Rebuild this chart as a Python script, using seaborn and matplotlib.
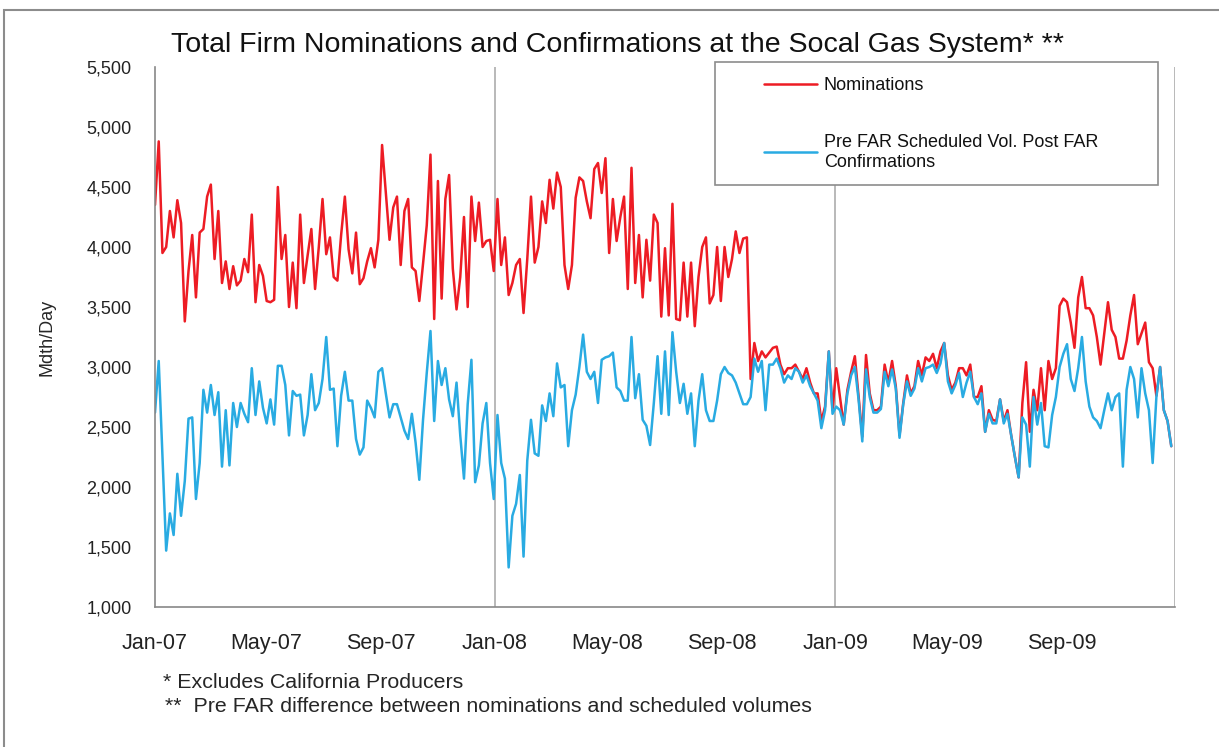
#total firm nominations vs confirmations, socal gas system, 2007-2009

import numpy as np
import pandas as pd
import matplotlib
matplotlib.use("Agg")
import matplotlib.pyplot as plt
import matplotlib.dates as mdates
from matplotlib.patches import Rectangle
from matplotlib.ticker import FuncFormatter
import seaborn as sns


#readings taken every 4 days from 1 Jan 2007 (Mdth/Day)
start = "2007-01-01"
step = "4D"

nominations = [
	4350, 4880, 3950, 4000, 4300, 4080, 4390, 4200, 3380, 3800, 4100, 3580, 4120, 4150, 4420, 4520,
	3900, 4300, 3700, 3880, 3650, 3840, 3680, 3720, 3900, 3790, 4270, 3540, 3850, 3760, 3550,
	3540, 3560, 4500, 3900, 4100, 3500, 3870, 3490, 4270, 3700, 3930, 4150, 3650, 4000, 4400, 3940,
	4080, 3750, 3720, 4100, 4420, 3980, 3780, 4120, 3690, 3740, 3880, 3990, 3830, 4060, 4850,
	4450, 4060, 4330, 4420, 3850, 4300, 4400, 3830, 3800, 3550, 3860, 4180, 4770, 3400, 4550, 3570,
	4400, 4600, 3820, 3480, 3750, 4250, 3500, 4420, 4050, 4370, 4000, 4050, 4060, 3800, 4400,
	3850, 4080, 3600, 3700, 3850, 3900, 3450, 3900, 4420, 3870, 4000, 4380, 4200, 4560, 4320, 4620,
	4500, 3850, 3650, 3850, 4410, 4580, 4550, 4380, 4240, 4650, 4700, 4450, 4740, 3950, 4400,
	4050, 4250, 4420, 3650, 4660, 3700, 4100, 3580, 4060, 3720, 4270, 4200, 3420, 3990, 3430, 4360,
	3400, 3390, 3870, 3420, 3870, 3340, 3750, 4000, 4080, 3530, 3600, 4000, 3550, 4000, 3750,
	3900, 4130, 3950, 4070, 4080, 2900, 3200, 3050, 3130, 3080, 3120, 3160, 3170, 3020, 2940, 2990,
	2990, 3020, 2960, 2900, 2990, 2870, 2780, 2780, 2550, 2670, 3130, 2640, 2990, 2750, 2520,
	2810, 2960, 3090, 2750, 2420, 3100, 2780, 2640, 2640, 2670, 3020, 2870, 3050, 2840, 2430, 2700,
	2930, 2780, 2840, 3050, 2930, 3080, 3050, 3110, 2990, 3130, 3200, 2930, 2810, 2870, 2990,
	2990, 2930, 3020, 2750, 2750, 2840, 2460, 2640, 2560, 2550, 2730, 2550, 2640, 2430, 2250, 2080,
	2700, 3040, 2460, 2810, 2640, 2990, 2640, 3050, 2900, 2990, 3510, 3570, 3540, 3370, 3160,
	3580, 3750, 3490, 3490, 3430, 3250, 3020, 3280, 3540, 3310, 3250, 3070, 3070, 3220, 3430, 3600,
	3190, 3280, 3370, 3040, 2990, 2760, 3000, 2640, 2550, 2340,
]

confirmations = [
	2620, 3050, 2250, 1470, 1780, 1600, 2110, 1760, 2050, 2570, 2580, 1900, 2200, 2810, 2620, 2850,
	2600, 2790, 2170, 2640, 2180, 2700, 2500, 2700, 2610, 2540, 2990, 2600, 2880, 2660, 2530,
	2730, 2520, 3010, 3010, 2850, 2430, 2800, 2760, 2770, 2430, 2600, 2940, 2640, 2700, 2900, 3250,
	2810, 2820, 2340, 2760, 2960, 2720, 2720, 2400, 2270, 2330, 2720, 2660, 2580, 2960, 2990,
	2780, 2580, 2690, 2690, 2580, 2470, 2400, 2610, 2370, 2060, 2560, 2950, 3300, 2550, 3050, 2850,
	2990, 2730, 2590, 2870, 2430, 2070, 2690, 3060, 2040, 2180, 2530, 2700, 2200, 1900, 2600,
	2200, 2070, 1330, 1760, 1860, 2100, 1420, 2220, 2560, 2280, 2260, 2680, 2550, 2780, 2590, 3030,
	2830, 2850, 2340, 2640, 2770, 3000, 3270, 2960, 2900, 2960, 2700, 3060, 3080, 3090, 3120,
	2830, 2800, 2720, 2720, 3250, 2740, 2940, 2560, 2510, 2350, 2700, 3090, 2610, 3130, 2600, 3290,
	2960, 2700, 2860, 2610, 2780, 2340, 2720, 2940, 2640, 2550, 2550, 2720, 2940, 3000, 2950,
	2930, 2870, 2780, 2690, 2690, 2750, 3070, 2960, 3050, 2640, 3020, 3020, 3070, 2990, 2870, 2930,
	2900, 2990, 2960, 2870, 2930, 2840, 2780, 2720, 2490, 2640, 3130, 2610, 2670, 2640, 2520,
	2780, 2930, 3000, 2730, 2380, 2980, 2750, 2620, 2620, 2650, 2960, 2840, 2980, 2820, 2410, 2690,
	2880, 2760, 2820, 2990, 2880, 2990, 3000, 3020, 2950, 3030, 3200, 2880, 2780, 2850, 2950,
	2750, 2870, 2960, 2750, 2690, 2780, 2460, 2610, 2530, 2530, 2730, 2530, 2610, 2430, 2250, 2080,
	2580, 2520, 2170, 2750, 2520, 2700, 2340, 2330, 2600, 2750, 3000, 3110, 3190, 2900, 2800,
	2990, 3250, 2880, 2670, 2580, 2550, 2490, 2640, 2780, 2640, 2750, 2780, 2170, 2810, 3000, 2900,
	2580, 2990, 2780, 2640, 2200, 2750, 3000, 2640, 2550, 2340,
]

series_names = ["Nominations", "Pre FAR Scheduled Vol. Post FAR\nConfirmations"]
colors = ["#ED1C24", "#29ABE2"]

title = "Total Firm Nominations and Confirmations at the Socal Gas System* **"
notes = ["* Excludes California Producers",
	"**  Pre FAR difference between nominations and scheduled volumes"]


#build table
dates = pd.date_range(start, periods=len(nominations), freq=step)
df = pd.DataFrame({"date": dates, series_names[0]: nominations, series_names[1]: confirmations})
long = df.melt(id_vars="date", var_name="series", value_name="mdth")

sns.set_style("white")
plt.rcParams['font.family'] = ['Liberation Sans Narrow', 'Liberation Sans', 'DejaVu Sans']

fig = plt.figure(figsize=(12.19, 7.47), dpi=100)
ax = fig.add_axes([155/1219, 1-607/747, 1020/1219, 540/747])

sns.lineplot(data=long, x="date", y="mdth", hue="series", hue_order=series_names,
	palette=colors, linewidth=1.8, ax=ax, legend=False)

#axes
end = pd.Timestamp("2010-01-01")
ax.set_xlim(pd.Timestamp(start), end)
ax.set_ylim(1000, 5500)
ax.set_yticks(np.arange(1000, 5501, 500))
ax.yaxis.set_major_formatter(FuncFormatter(lambda v, p: "{:,.0f}".format(v)))
ax.xaxis.set_major_locator(mdates.MonthLocator(bymonth=[1, 5, 9]))
#no label on the closing Jan-10 tick
ax.xaxis.set_major_formatter(FuncFormatter(
	lambda v, p: "" if mdates.num2date(v).year >= 2010 else mdates.num2date(v).strftime("%b-%y")))
ax.tick_params(axis="both", direction="out", length=5, width=1, colors="#888888", labelcolor="#222222")
ax.tick_params(axis="x", pad=14, labelsize=15.5)
ax.tick_params(axis="y", pad=12, labelsize=13)
ax.set_xlabel("")
ax.set_ylabel("Mdth/Day", fontsize=13, labelpad=22)

for s in ["top", "right"]:
	ax.spines[s].set_visible(False)
for s in ["left", "bottom"]:
	ax.spines[s].set_color("#888888")
	ax.spines[s].set_linewidth(1.2)

#yearly gridlines
for yr in ["2008-01-01", "2009-01-01", "2010-01-01"]:
	ax.axvline(pd.Timestamp(yr), color="#A6A6A6", linewidth=1.1, zorder=0)

#legend box
fig.patches.append(Rectangle((715/1219, 1-185/747), 443/1219, 123/747, transform=fig.transFigure,
	facecolor="white", edgecolor="#8C8C8C", linewidth=1.2, zorder=5))
leg = fig.legend(ax.get_lines()[:2], series_names, loc="upper left",
	bbox_to_anchor=(748/1219, 1-61/747), frameon=False, fontsize=13,
	handlelength=2.9, handletextpad=0.4, labelspacing=2.2)
leg.set_zorder(6)
for t in leg.get_texts():
	t.set_color("#111111")

#title and notes
fig.text(617/1219, 1-45/747, title, ha="center", va="center", fontsize=20.5, color="#111111")
fig.text(163/1219, 1-683/747, notes[0], ha="left", va="center", fontsize=15.4)
fig.text(165/1219, 1-707/747, notes[1], ha="left", va="center", fontsize=15.4)

#outer frame
fig.patches.append(Rectangle((4/1219, -0.05), 1.2, 1.05-10/747, transform=fig.transFigure,
	facecolor="none", edgecolor="#8C8C8C", linewidth=1.5))

fig.savefig("out.png", dpi=100)
